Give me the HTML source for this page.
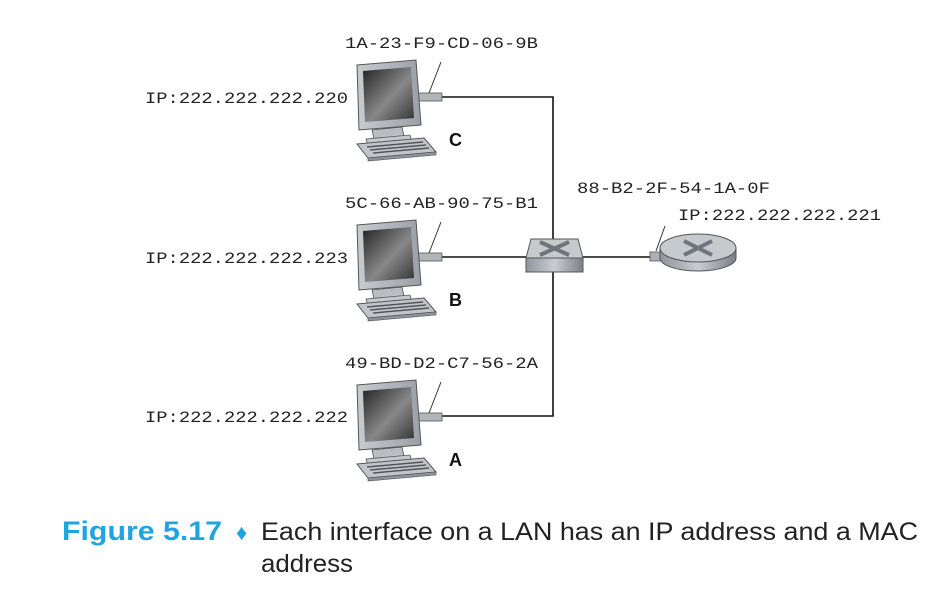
<!DOCTYPE html>
<html><head><meta charset="utf-8"><style>
html,body{margin:0;padding:0;background:#fff;width:944px;height:599px;overflow:hidden}
svg{display:block}
.m{font-family:"Liberation Mono",monospace;font-size:16px;fill:#222}
.l{font-family:"Liberation Sans",sans-serif;font-weight:bold;font-size:18px;fill:#111}
</style></head><body>
<svg width="944" height="599" viewBox="0 0 944 599">
<defs>
<linearGradient id="scr" x1="0" y1="0" x2="1" y2="1"><stop offset="0" stop-color="#222"/><stop offset="0.55" stop-color="#888"/><stop offset="1" stop-color="#333"/></linearGradient>
<linearGradient id="bez" x1="0" y1="0" x2="1" y2="0"><stop offset="0" stop-color="#c8ccd0"/><stop offset="1" stop-color="#9aa0a6"/></linearGradient>
<linearGradient id="sw" x1="0" y1="0" x2="1" y2="0"><stop offset="0" stop-color="#8f959b"/><stop offset="0.5" stop-color="#c9cdd1"/><stop offset="1" stop-color="#7a8086"/></linearGradient>
<g id="pc">
<rect x="416" y="33" width="26" height="8" fill="#b0b5ba" stroke="#555" stroke-width="0.8"/>
<path d="M357 5 L416 0 L421 65 L359 70 Z" fill="url(#bez)" stroke="#555" stroke-width="1"/>
<path d="M363 11 L411 7 L414 58 L365 62 Z" fill="url(#scr)"/>
<path d="M372 70 L402 67 L404 76 L374 79 Z" fill="#b9bec3" stroke="#555" stroke-width="0.8"/>
<path d="M366 79 L410 75 L412 82 L368 86 Z" fill="#c5c9cd" stroke="#555" stroke-width="0.8"/>
<path d="M357 84 L424 78 L436 92 L368 98 Z" fill="#c2c6ca" stroke="#555" stroke-width="1"/>
<path d="M368 98 L436 92 L436 95 L368 101 Z" fill="#8d9398" stroke="#555" stroke-width="0.6"/>
<g stroke="#555" stroke-width="1.5"><line x1="367" y1="87" x2="423" y2="82"/><line x1="370" y1="90" x2="426" y2="85"/><line x1="373" y1="93" x2="429" y2="88"/></g>
</g>
</defs>
<g stroke="#111" stroke-width="1.6" fill="none">
<polyline points="440,97 553,97 553,416 440,416"/>
<line x1="440" y1="257" x2="530" y2="257"/>
<line x1="580" y1="257" x2="655" y2="257"/>
</g>
<g stroke="#333" stroke-width="1">
<line x1="441" y1="62" x2="429" y2="93"/>
<line x1="441" y1="222" x2="429" y2="253"/>
<line x1="441" y1="382" x2="429" y2="413"/>
<line x1="665" y1="226" x2="656" y2="251"/>
</g>
<use href="#pc" transform="translate(0,60)"/>
<use href="#pc" transform="translate(0,220)"/>
<use href="#pc" transform="translate(0,380)"/>
<path d="M526 258 L583 258 L583 272 L526 272 Z" fill="url(#sw)" stroke="#555"/>
<path d="M531 239 L578 239 L583 258 L526 258 Z" fill="#c6cacd" stroke="#555"/>
<g stroke="#6f757b" stroke-width="4"><line x1="540" y1="242" x2="569" y2="255"/><line x1="569" y1="242" x2="540" y2="255"/></g>
<rect x="650" y="252" width="20" height="9" fill="#aab0b5" stroke="#555" stroke-width="0.8"/>
<path d="M660 248 L660 258 A38 13 0 0 0 736 258 L736 248 Z" fill="url(#sw)" stroke="#555"/>
<ellipse cx="698" cy="248" rx="38" ry="14" fill="#c6cacd" stroke="#555"/>
<g stroke="#6f757b" stroke-width="4"><line x1="684" y1="241" x2="712" y2="255"/><line x1="712" y1="241" x2="684" y2="255"/></g>
<text class="m" x="345" y="48" textLength="193" lengthAdjust="spacingAndGlyphs">1A-23-F9-CD-06-9B</text>
<text class="m" x="345" y="208" textLength="193" lengthAdjust="spacingAndGlyphs">5C-66-AB-90-75-B1</text>
<text class="m" x="345" y="368" textLength="193" lengthAdjust="spacingAndGlyphs">49-BD-D2-C7-56-2A</text>
<text class="m" x="577" y="193" textLength="193" lengthAdjust="spacingAndGlyphs">88-B2-2F-54-1A-0F</text>
<text class="m" x="678" y="220" textLength="203" lengthAdjust="spacingAndGlyphs">IP:222.222.222.221</text>
<text class="m" x="145" y="103" textLength="203" lengthAdjust="spacingAndGlyphs">IP:222.222.222.220</text>
<text class="m" x="145" y="263" textLength="203" lengthAdjust="spacingAndGlyphs">IP:222.222.222.223</text>
<text class="m" x="145" y="422" textLength="203" lengthAdjust="spacingAndGlyphs">IP:222.222.222.222</text>
<text class="l" x="449" y="146">C</text>
<text class="l" x="449" y="306">B</text>
<text class="l" x="449" y="466">A</text>
<text x="62" y="540" font-family="Liberation Sans,sans-serif" font-weight="bold" font-size="27" fill="#1ea5e0" textLength="160" lengthAdjust="spacingAndGlyphs">Figure 5.17</text>
<text x="236" y="540" font-family="Liberation Sans,sans-serif" font-size="22" fill="#1ea5e0">♦</text>
<text x="261" y="540" font-family="Liberation Sans,sans-serif" font-size="25" fill="#222" textLength="657" lengthAdjust="spacingAndGlyphs">Each interface on a LAN has an IP address and a MAC</text>
<text x="261" y="572" font-family="Liberation Sans,sans-serif" font-size="25" fill="#222" textLength="92" lengthAdjust="spacingAndGlyphs">address</text>
</svg>
</body></html>
